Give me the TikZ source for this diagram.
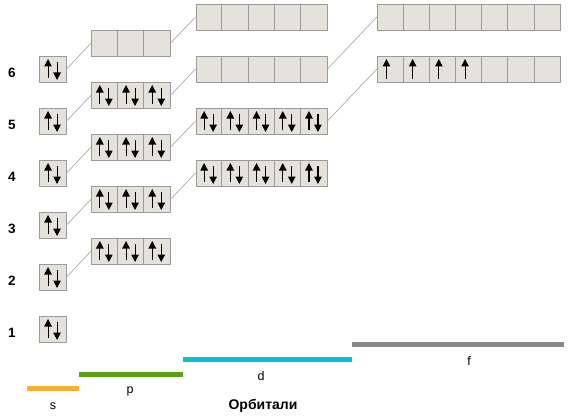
\documentclass[tikz,border=0pt]{standalone}
\usepackage{fontspec}
\setmainfont{Liberation Sans}
\usetikzlibrary{arrows.meta,calc}
\definecolor{cellfill}{HTML}{E4E2DB}
\definecolor{cellline}{HTML}{9A9A98}
\definecolor{linkgray}{HTML}{ABABAB}
\definecolor{sbar}{HTML}{F6AE35}
\definecolor{pbar}{HTML}{5AA110}
\definecolor{dbar}{HTML}{0CBFCF}
\definecolor{fbar}{HTML}{8A8A8A}
\begin{document}
\begin{tikzpicture}[x=1pt, y=-1pt, line join=round,
  orb/.style={draw=cellline, fill=cellfill, line width=0.9pt, inner sep=0pt,
    minimum height=26pt, minimum width=#1*26.2pt},
  spin/.style={-{Triangle[length=7.5pt,width=7.5pt]}, line width=1.1pt},
  link/.style={draw=linkgray, line width=0.7pt},
  bar/.style={line width=5pt},
  shellnum/.style={font=\bfseries\fontsize{13.5}{13.5}\selectfont},
  sub/.style={font=\fontsize{12.5}{12.5}\selectfont}]
	\useasboundingbox (0,0) rectangle (570,420);
	
	% shells: s, p, d, f rows
	\foreach \n in {1,...,6} {
		\pgfmathsetmacro{\yy}{329-52*(\n-1)}
		\node[orb=1] (s\n) at (53,\yy) {};
		\node[shellnum] (n\n) at (12,\yy+4) {\n};
	}
	\foreach \n in {2,...,6} {
		\pgfmathsetmacro{\yy}{329-52*(\n-1)}
		\node[orb=3] (p\n) at (131,\yy-26) {};
	}
	\foreach \n in {3,...,6} {
		\pgfmathsetmacro{\yy}{329-52*(\n-1)}
		\node[orb=5] (d\n) at (261.5,\yy-52) {};
	}
	\foreach \n in {4,5} {
		\pgfmathsetmacro{\yy}{329-52*(\n-1)}
		\node[orb=7] (f\n) at (469,\yy-104) {};
	}
	
	% cell walls
	\foreach \r/\k in {p2/3,p3/3,p4/3,p5/3,p6/3,d3/5,d4/5,d5/5,d6/5,f4/7,f5/7} {
		\pgfmathtruncatemacro{\km}{\k-1}
		\foreach \i in {1,...,\km}
		\draw[cellline, line width=0.9pt] ([xshift=\i*26.2pt]\r.north west) -- ([xshift=\i*26.2pt]\r.south west);
	}
	
	% links
	\foreach \n in {2,...,6}
	\draw[link] (s\n.east) -- (p\n.west);
	\foreach \n in {3,...,6}
	\draw[link] (p\n.east) -- (d\n.west);
	\draw[link] (d4.east) -- (f4.west) (d5.east) -- (f5.west);
	
	% electrons
	\foreach \r/\k in {s1/1,s2/1,s3/1,s4/1,s5/1,s6/1,p2/3,p3/3,p4/3,p5/3,d3/5,d4/5}
	\foreach \i in {1,...,\k} {
		\coordinate (c) at ([xshift=(\i-0.5)*26.2pt]\r.west);
		\draw[spin] ($(c)+(-4.5,9)$) -- ++(0,-19);
		\draw[spin] ($(c)+(4.5,-7)$) -- ++(0,18);
	}
	\foreach \i in {1,...,4} {
		\coordinate (c) at ([xshift=(\i-0.5)*26.2pt]f4.west);
		\draw[spin] ($(c)+(-3.5,10)$) -- ++(0,-20);
	}
	
	% bars
	\draw[bar, sbar] (27,388.5) -- (79,388.5);
	\draw[bar, pbar] (79,374) -- (183,374);
	\draw[bar, dbar] (183,359.5) -- (352,359.5);
	\draw[bar, fbar] (352,344.5) -- (564,344.5);
	
	\node[sub] (ls) at (53,406) {s};
	\node[sub] (lp) at (130,391) {p};
	\node[sub] (ld) at (261,376) {d};
	\node[sub] (lf) at (469,361) {f};
	\node[font=\bfseries\fontsize{14}{14}\selectfont] (lorb) at (263,406) {Орбитали};
\end{tikzpicture}
\end{document}
